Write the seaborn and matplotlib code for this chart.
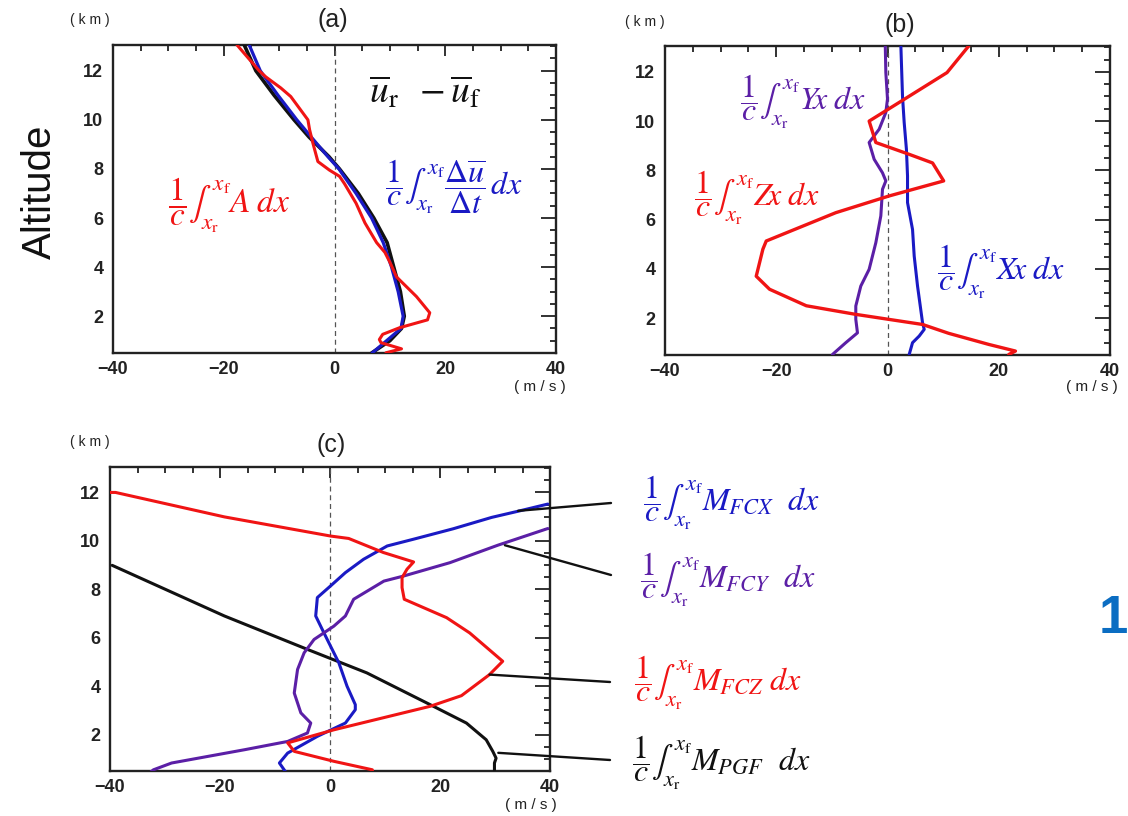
"""Zonal momentum budget profiles, panels (a)-(c)."""

import matplotlib

matplotlib.use("Agg")
import matplotlib.pyplot as plt
import seaborn as sns
from matplotlib.ticker import MultipleLocator

# ---------------------------------------------------------------- data
# panel (a): observed difference, local change term, total term A
A_DIFF_ALT = [13.05, 12.0, 11.0, 10.0, 9.3, 8.5, 8.0, 7.0, 6.0, 5.0, 4.0, 3.0, 2.0, 1.5, 1.0, 0.5]
A_DIFF_U = [-16.3, -14.2, -10.9, -7.3, -4.6, -1.0, 0.9, 4.3, 7.1, 9.5, 10.7, 11.9, 12.6, 12.1, 10.0, 6.7]
A_DUDT_ALT = [13.05, 12.0, 11.0, 10.0, 9.3, 8.5, 8.0, 7.0, 6.0, 5.0, 4.0, 3.0, 2.0, 1.5, 1.0, 0.5]
A_DUDT_U = [-15.4, -13.4, -10.2, -6.8, -4.2, -1.2, 0.8, 3.9, 6.7, 8.8, 10.3, 11.5, 12.4, 12.0, 9.4, 6.8]
A_A_ALT = [13.05, 12.0, 11.75, 11.3, 10.95, 10.0, 9.6, 9.05, 8.3, 7.95, 7.7, 7.4, 6.6, 5.8,
           5.0, 4.6, 4.2, 3.6, 2.8, 2.14, 1.85, 1.53, 1.26, 1.05, 0.92, 0.67, 0.51]
A_A_U = [-17.6, -13.6, -12.4, -9.7, -7.9, -4.8, -4.5, -3.9, -3.0, -0.9, 0.9, 1.8, 3.9, 5.5,
         7.6, 9.1, 10.0, 11.2, 14.8, 17.2, 16.8, 11.75, 8.7, 8.1, 8.4, 12.1, 9.3]

# panel (b): X, Y, Z components
B_X_ALT = [13.08, 11.0, 9.94, 8.86, 7.77, 6.69, 5.6, 4.52, 3.3, 1.81, 1.54, 1.27, 1.0, 0.52]
B_X_U = [2.4, 2.7, 3.0, 3.4, 3.6, 3.6, 4.5, 4.8, 5.4, 6.3, 6.6, 5.7, 4.5, 3.9]
B_Y_ALT = [13.08, 11.97, 10.9, 10.35, 9.67, 9.13, 8.45, 7.9, 7.57, 7.23, 6.15, 5.06, 3.98,
           3.3, 2.49, 1.95, 1.4, 1.0, 0.52]
B_Y_U = [-0.4, -0.3, 0.0, -0.3, -1.5, -3.3, -2.4, -0.9, -0.3, -0.9, -1.2, -2.1, -3.3,
         -4.8, -5.7, -5.7, -5.4, -7.5, -9.9]
B_Z_ALT = [13.05, 11.97, 10.8, 10.0, 9.13, 8.65, 8.3, 7.57, 6.96, 6.28, 5.13, 4.8, 3.7,
           3.17, 2.5, 2.15, 1.74, 1.38, 0.93, 0.66, 0.52]
B_Z_U = [14.6, 10.7, 2.4, -3.3, -2.1, 3.9, 8.1, 10.1, 0.3, -9.3, -21.8, -22.4, -23.6,
         -21.2, -14.6, -5.7, 6.3, 11.0, 18.2, 23.0, 21.8]

# panel (c): flux convergence terms and pressure gradient term
C_FCX_ALT = [11.52, 11.24, 10.97, 10.5, 10.07, 9.79, 9.24, 8.69, 8.14, 7.66, 6.9, 6.34,
             5.79, 4.97, 4.0, 3.24, 3.03, 2.48, 1.93, 1.24, 0.83, 0.44]
C_FCX_U = [39.6, 34.5, 29.4, 22.4, 15.2, 10.4, 6.1, 2.8, 0.1, -2.3, -2.6, -1.4,
           -0.2, 1.6, 3.1, 4.6, 4.6, 2.8, -2.3, -7.7, -9.2, -8.0]
C_FCY_ALT = [10.51, 9.82, 9.1, 8.55, 8.34, 7.59, 6.9, 6.48, 5.93, 5.38, 4.69, 3.72, 2.9,
             2.48, 2.07, 1.72, 1.38, 0.83, 0.55, 0.44]
C_FCY_U = [39.6, 30.5, 21.8, 13.4, 9.8, 4.3, 2.8, 0.7, -2.9, -4.7, -5.9, -6.5, -5.3,
           -3.5, -4.1, -7.7, -15.5, -28.8, -32.1, -32.7]
C_FCZ_ALT = [12.0, 12.0, 10.99, 10.2, 10.1, 9.52, 9.13, 8.83, 8.48, 8.07, 7.59, 6.83, 6.2,
             5.03, 4.48, 3.61, 3.17, 2.2, 1.66, 1.31, 0.9, 0.55, 0.44]
C_FCZ_U = [-40.0, -39.0, -19.2, 0.1, 3.4, 9.7, 15.2, 14.0, 13.1, 13.1, 13.5, 21.2, 25.4,
           31.4, 29.0, 23.9, 18.2, 0.7, -7.7, -6.5, 0.7, 7.7, 7.7]
C_PGF_ALT = [8.99, 6.9, 5.52, 4.55, 3.24, 2.48, 1.79, 1.31, 1.03, 0.83, 0.44]
C_PGF_U = [-39.6, -19.2, -4.1, 6.7, 18.2, 24.8, 28.4, 29.6, 30.2, 29.9, 29.9]

RED = "#f01414"
BLUE = "#1a1ac4"
PURPLE = "#5b1fa6"
BLACK = "#111111"

W, H = 1128, 816

sns.set_style("white")
plt.rcParams["font.family"] = ["Liberation Sans", "DejaVu Sans"]
plt.rcParams["mathtext.fontset"] = "stix"

fig = plt.figure(figsize=(W / 100, H / 100), dpi=100)


def box(left, top, right, bottom):
    return [left / W, 1 - bottom / H, (right - left) / W, (bottom - top) / H]


def fx(x):
    return x / W


def fy(y):
    return 1 - y / H


def style(ax):
    ax.set_xlim(-40, 40)
    ax.set_ylim(0.5, 13.05)
    ax.xaxis.set_major_locator(MultipleLocator(20))
    ax.xaxis.set_minor_locator(MultipleLocator(5))
    ax.yaxis.set_major_locator(MultipleLocator(2))
    ax.yaxis.set_minor_locator(MultipleLocator(0.5))
    ax.tick_params(which="both", direction="in", top=True, right=True,
                   width=1.3, color="#222222")
    ax.tick_params(axis="x", which="major", length=8, pad=6)
    ax.tick_params(axis="y", which="major", length=11, pad=7)
    ax.tick_params(which="minor", length=4.5)
    for lab in ax.get_xticklabels() + ax.get_yticklabels():
        lab.set_fontsize(13)
        lab.set_fontweight("bold")
        lab.set_color("#222222")
    for sp in ax.spines.values():
        sp.set_linewidth(1.7)
        sp.set_color("#222222")
    ax.axvline(0, color="#555555", ls=(0, (4, 3)), lw=0.9, zorder=1)
    ax.set_xlabel("")
    ax.set_ylabel("")


def curve(ax, u, alt, color, lw=2.2):
    sns.lineplot(x=u, y=alt, sort=False, estimator=None, color=color,
                 lw=lw, ax=ax, legend=False, zorder=3)


ax_a = fig.add_axes(box(113, 45, 556, 353))
ax_b = fig.add_axes(box(665, 46, 1110, 355))
ax_c = fig.add_axes(box(110, 467, 550, 771))

# (a)
curve(ax_a, A_DIFF_U, A_DIFF_ALT, BLACK, 2.6)
curve(ax_a, A_DUDT_U, A_DUDT_ALT, BLUE, 2.3)
curve(ax_a, A_A_U, A_A_ALT, RED, 2.2)
style(ax_a)

# (b)
curve(ax_b, B_X_U, B_X_ALT, BLUE)
curve(ax_b, B_Y_U, B_Y_ALT, PURPLE)
curve(ax_b, B_Z_U, B_Z_ALT, RED, 2.4)
style(ax_b)

# (c)
curve(ax_c, C_PGF_U, C_PGF_ALT, BLACK)
curve(ax_c, C_FCX_U, C_FCX_ALT, BLUE)
curve(ax_c, C_FCY_U, C_FCY_ALT, PURPLE)
curve(ax_c, C_FCZ_U, C_FCZ_ALT, RED)
style(ax_c)

# leader lines from the curves in (c) out to their labels
leaders = [((34.2, 11.24), (611, 503)), ((31.8, 9.82), (611, 575)),
           ((29.0, 4.48), (610, 682)), ((30.6, 1.25), (610, 760))]
for xy, (px, py) in leaders:
    ax_c.annotate("", xy=xy, xycoords="data", xytext=(px, H - py),
                  textcoords="figure pixels", annotation_clip=False,
                  arrowprops=dict(arrowstyle="-", color=BLACK, lw=1.7,
                                  shrinkA=0, shrinkB=0))

# panel letters and units
for x, y, s in [(333, 20, "(a)"), (900, 25, "(b)"), (331, 445, "(c)")]:
    fig.text(fx(x), fy(y), s, fontsize=18, ha="center", va="center", color="#222222")
for x, y in [(90, 20), (645, 22), (90, 442)]:
    fig.text(fx(x), fy(y), "( k m )", fontsize=10, ha="center", va="center", color="#222222")
for x, y in [(540, 387), (1092, 387), (531, 805)]:
    fig.text(fx(x), fy(y), "( m / s )", fontsize=11, ha="center", va="center", color="#222222")

# curve labels
INT = r"\dfrac{1}{c}\int_{x_{\rm r}}^{x_{\rm f}}"
labels = [
    (168, 205, INT + r"A\;dx", RED, 24),
    (385, 187, INT + r"\dfrac{\Delta\overline{u}}{\Delta t}\,dx", BLUE, 23),
    (369, 93, r"\overline{u}_{\rm r}\;\;-\overline{u}_{\rm f}", BLACK, 27),
    (740, 102, INT + r"Y\!x\;dx", PURPLE, 23),
    (694, 198, INT + r"Z\!x\;dx", RED, 23),
    (937, 272, INT + r"X\!x\;dx", BLUE, 23),
    (643, 503, INT + r"M_{FCX}\ \ dx", BLUE, 23),
    (640, 580, INT + r"M_{FCY}\ \ dx", PURPLE, 23),
    (634, 683, INT + r"M_{FCZ}\ dx", RED, 23),
    (632, 763, INT + r"M_{PGF}\ \ dx", BLACK, 23),
]
for x, y, s, c, size in labels:
    fig.text(fx(x), fy(y), "$" + s + "$", color=c, fontsize=size, ha="left", va="center")

fig.text(fx(40), fy(192), "Altitude", rotation=90, fontsize=29, ha="center", va="center",
         family=["Liberation Sans", "DejaVu Sans"], color="#111111")
fig.text(fx(1113), fy(619), "1", fontsize=38, fontweight="bold", color="#0b6dc2",
         ha="center", va="center")

fig.savefig("out.png", dpi=100)
plt.close(fig)
